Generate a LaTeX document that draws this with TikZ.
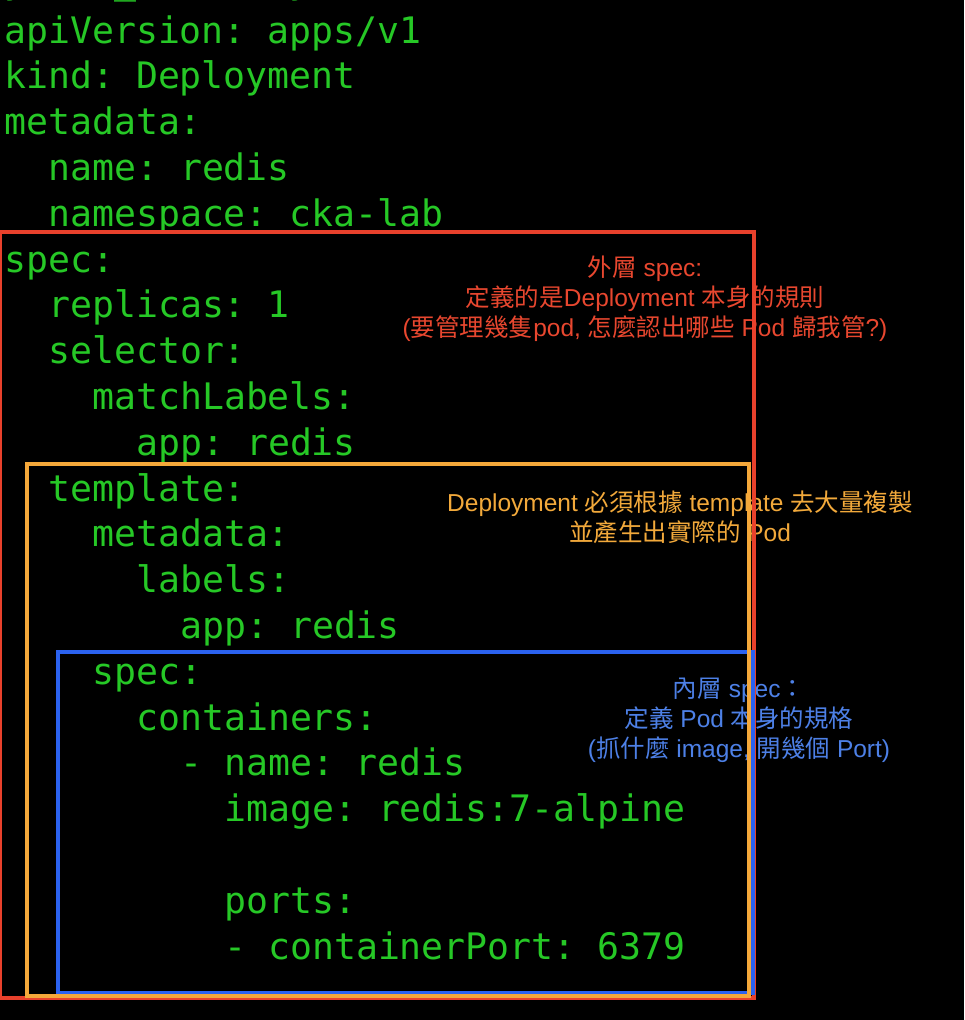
\documentclass[tikz,border=0pt]{standalone}
\usepackage{fontspec}
\newfontfamily\codefont{DejaVu Sans Mono}
\newfontfamily\notefont{Liberation Sans}
\newfontfamily\zh{Noto Sans CJK TC}
\definecolor{codegreen}{RGB}{38,200,38}
\definecolor{outerred}{RGB}{232,65,44}
\definecolor{tplorange}{RGB}{245,168,58}
\definecolor{innerblue}{RGB}{43,98,240}
\definecolor{redtext}{RGB}{232,71,47}
\definecolor{orangetext}{RGB}{242,169,59}
\definecolor{bluetext}{RGB}{77,128,230}

\begin{document}
\begin{tikzpicture}[x=1pt, y=-1pt,
  code/.style = {anchor=base west, inner sep=0pt, text=codegreen,
    font=\codefont\fontsize{36.5pt}{44pt}\selectfont\frenchspacing},
  note/.style = {align=center, inner sep=0pt,
    font=\notefont\fontsize{24.5pt}{30pt}\selectfont},
  frame/.style = {line width=4pt}]

\useasboundingbox (0, 0) rectangle (964, 1020);
\fill[black] (0, 0) rectangle (964, 1020);

% yaml lines, 22px per character, 45.8px per line
\node[code] (cut) at (4, -7) {y\phantom{xxxx}\_\phantom{xxxxxxx}y};
\node[code] (apiver) at (4, 43) {apiVersion: apps/v1};
\node[code] (kind) at (4, 88.8) {kind: Deployment};
\node[code] (meta) at (4, 134.6) {metadata:};
\node[code] (name) at (48, 180.4) {name: redis};
\node[code] (ns) at (48, 226.2) {namespace: cka-lab};
\node[code] (spec) at (4, 272) {spec:};
\node[code] (replicas) at (48, 317.8) {replicas: 1};
\node[code] (selector) at (48, 363.6) {selector:};
\node[code] (match) at (92, 409.4) {matchLabels:};
\node[code] (selapp) at (136, 455.2) {app: redis};
\node[code] (template) at (48, 501) {template:};
\node[code] (tplmeta) at (92, 546.8) {metadata:};
\node[code] (labels) at (136, 592.6) {labels:};
\node[code] (lblapp) at (180, 638.4) {app: redis};
\node[code] (podspec) at (92, 684.2) {spec:};
\node[code] (containers) at (136, 730) {containers:};
\node[code] (cname) at (180, 775.8) {- name: redis};
\node[code] (image) at (224, 821.6) {image: redis:7-alpine};
\node[code] (ports) at (224, 913.2) {ports:};
\node[code] (cport) at (224, 959) {- containerPort: 6379};

% notes
\node[note, text=redtext] (outernote) at (645, 299)
  {{\zh 外層} spec:\\
   {\zh 定義的是}Deployment {\zh 本身的規則}\\
   ({\zh 要管理幾隻}pod, {\zh 怎麼認出哪些} Pod {\zh 歸我管}?)};
\node[note, text=orangetext] (tplnote) at (680, 517.5)
  {Deployment {\zh 必須根據} template {\zh 去大量複製}\\
   {\zh 並產生出實際的} Pod};
\node[note, text=bluetext] (innernote) at (739, 720.5)
  {{\zh 內層} spec{\zh ：}\\
   {\zh 定義} Pod {\zh 本身的規格}\\
   ({\zh 抓什麼} image, {\zh 開幾個} Port)};

% frames
\draw[frame, outerred] (-0.3, 232) rectangle (754, 997.5);
\draw[frame, innerblue] (58, 651.5) rectangle (752.7, 993);
\draw[frame, tplorange] (27, 464) rectangle (749, 995.7);

\end{tikzpicture}
\end{document}
